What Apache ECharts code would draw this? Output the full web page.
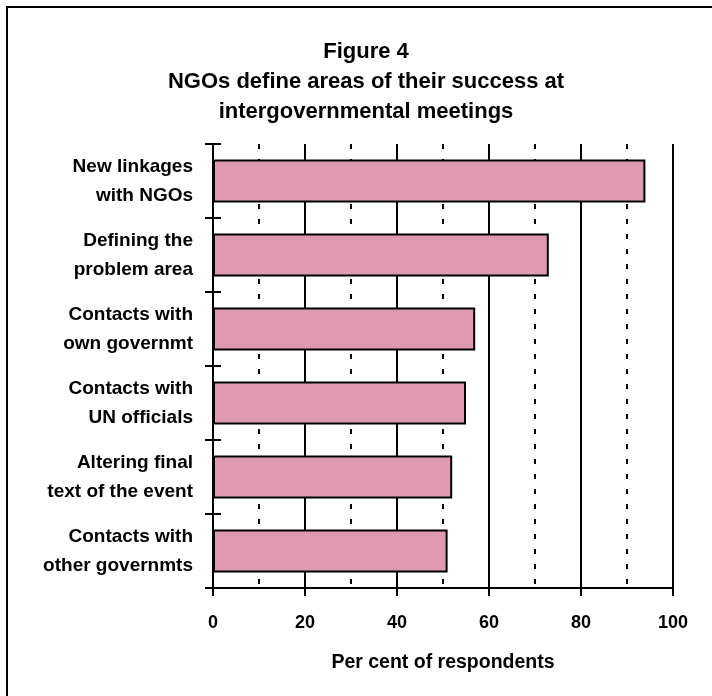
<!DOCTYPE html>
<html><head><meta charset="utf-8">
<script src="https://cdn.jsdelivr.net/npm/echarts@6/dist/echarts.min.js"></script>
<style>html,body{margin:0;padding:0;background:#fff}#c{width:712px;height:696px}</style>
</head><body><div id="c"></div>
<script>
const categories = ['New linkages\nwith NGOs','Defining the\nproblem area','Contacts with\nown governmt','Contacts with\nUN officials','Altering final\ntext of the event','Contacts with\nother governmts'];
const values = [94, 73, 57, 55, 52, 51];
const xTicks = [0, 20, 40, 60, 80, 100];
const titleLines = ['Figure 4','NGOs define areas of their success at','intergovernmental meetings'];
const axisName = 'Per cent of respondents';

const narrow = '"Liberation Sans Narrow","Arial Narrow","Liberation Sans",sans-serif';
const chart = echarts.init(document.getElementById('c'), null, {renderer:'canvas'});
chart.setOption({
  animation:false,
  backgroundColor:'#fff',
  graphic:[
    {type:'rect', shape:{x:7,y:7,width:720,height:710}, style:{fill:'none',stroke:'#000',lineWidth:2}, z:100},
    {type:'text', x:366, y:37, style:{text:titleLines.join('\n'), font:'bold 22px "Liberation Sans",Arial,sans-serif', lineHeight:30, fill:'#000', align:'center', verticalAlign:'top'}}
  ],
  grid:{left:213, right:39, top:144, bottom:108},
  xAxis:{
    type:'value', min:xTicks[0], max:xTicks[xTicks.length-1], interval:20,
    axisLine:{show:true, lineStyle:{color:'#000', width:2}},
    axisTick:{show:true, length:8, lineStyle:{color:'#000', width:2}},
    axisLabel:{color:'#000', fontFamily:narrow, fontWeight:'bold', fontSize:18, margin:26},
    splitLine:{show:true, lineStyle:{color:'#000', width:2}},
    minorTick:{show:false, splitNumber:2},
    minorSplitLine:{show:true, lineStyle:{color:'#000', width:2, type:[5,10]}},
    name:axisName, nameLocation:'middle', nameGap:65,
    nameTextStyle:{color:'#000', fontFamily:narrow, fontWeight:'bold', fontSize:19.5}
  },
  yAxis:[{
    type:'category', data:categories, inverse:true,
    axisLine:{show:true, lineStyle:{color:'#000', width:2}},
    axisTick:{show:true, length:8, lineStyle:{color:'#000', width:2}},
    axisLabel:{color:'#000', fontFamily:narrow, fontWeight:'bold', fontSize:19, lineHeight:29, margin:20, align:'right'},
    splitLine:{show:false}
  },{
    type:'category', data:categories, inverse:true, position:'left', offset:0,
    axisLine:{show:false},
    axisTick:{show:true, inside:true, length:8, lineStyle:{color:'#000', width:2}},
    axisLabel:{show:false}, splitLine:{show:false}
  }],
  series:[{
    type:'bar', data:values, barWidth:'58%', yAxisIndex:0,
    itemStyle:{color:'#DF9AB2', borderColor:'#000', borderWidth:2}
  }]
});
</script></body></html>
